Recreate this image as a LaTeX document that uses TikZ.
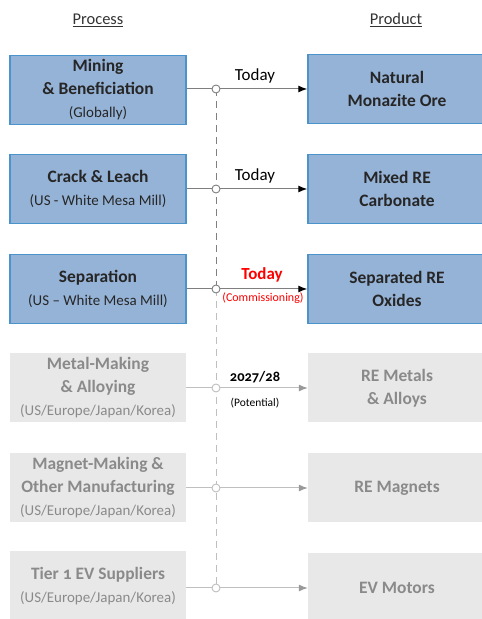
\documentclass[tikz,border=0pt]{standalone}
\usepackage{fontspec}
\setmainfont{Carlito}[Numbers=OldStyle]
\usetikzlibrary{arrows.meta}
\definecolor{boxblue}{HTML}{95B3D7}
\definecolor{edgeblue}{HTML}{4B93CB}
\definecolor{boxgrey}{HTML}{E8E8E8}
\definecolor{txtgrey}{HTML}{8A8A8A}
\definecolor{linegrey}{HTML}{7F7F7F}
\definecolor{lightline}{HTML}{BFBFBF}
\definecolor{redtxt}{HTML}{FF0000}
\newcommand{\procnote}[1]{{\fontsize{15}{23}\selectfont #1}}
\begin{document}
\begin{tikzpicture}[x=1bp,y=1bp,
  bluebox/.style={draw=edgeblue, line width=1.5bp, fill=boxblue, minimum width=176bp, minimum height=69bp,
    align=center, font=\fontsize{17.5}{23}\selectfont\bfseries, text=black!85},
  greybox/.style={fill=boxgrey, minimum width=176bp, minimum height=69bp,
    align=center, font=\fontsize{17.5}{23}\selectfont\bfseries, text=txtgrey},
  joint/.style={circle, draw=linegrey, fill=white, line width=0.9bp, inner sep=0pt, minimum size=8bp},
  greyjoint/.style={joint, draw=lightline},
  flow/.style={draw=linegrey, line width=1bp, -{Latex[length=9bp,width=7bp,black]}},
  greyflow/.style={draw=lightline, line width=1bp, -{Latex[length=9bp,width=7bp,lightline!80!black]}},
  when/.style={font=\fontsize{17}{19}\selectfont, text=black}]
\useasboundingbox (0,0) rectangle (482,619);
% headings
\node[font=\fontsize{16.5}{18}\selectfont, text=black!80] (hproc) at (98,599) {\underline{Process}};
\node[font=\fontsize{16.5}{18}\selectfont, text=black!80] (hprod) at (396,599) {\underline{Product}};
% process column
\node[bluebox] (proc1) at (98,529) {Mining\\ \& Beneficiation\\ \procnote{\mdseries (Globally)}};
\node[bluebox] (proc2) at (98,430) {Crack \& Leach\\ \procnote{\mdseries (US - White Mesa Mill)}};
\node[bluebox] (proc3) at (98,330) {Separation\\ \procnote{\mdseries (US -- White Mesa Mill)}};
\node[greybox] (proc4) at (98,231) {Metal-Making\\ \& Alloying\\ \procnote{\mdseries (US/Europe/Japan/Korea)}};
\node[greybox] (proc5) at (98,131) {Magnet-Making \&\\ Other Manufacturing\\ \procnote{\mdseries (US/Europe/Japan/Korea)}};
\node[greybox] (proc6) at (98,33) {Tier 1 EV Suppliers\\ \procnote{\mdseries (US/Europe/Japan/Korea)}};
% product column
\node[bluebox, minimum width=178bp] (prod1) at (397,530) {Natural\\ Monazite Ore};
\node[bluebox, minimum width=178bp] (prod2) at (397,430) {Mixed RE\\ Carbonate};
\node[bluebox, minimum width=178bp] (prod3) at (397,330) {Separated RE\\ Oxides};
\node[greybox, minimum width=178bp] (prod4) at (397,231) {RE Metals\\ \& Alloys};
\node[greybox, minimum width=178bp] (prod5) at (397,131) {RE Magnets};
\node[greybox, minimum width=178bp] (prod6) at (397,31) {EV Motors};
% timeline
\coordinate (t1) at (216,530);
\coordinate (t3) at (216,330);
\coordinate (t6) at (216,31);
\draw[linegrey, line width=0.9bp, dash pattern=on 7bp off 5bp] (t1) -- (t3);
\draw[lightline, line width=0.9bp, dash pattern=on 7bp off 5bp] (t3) -- (t6);
\draw[flow] (proc1.east |- prod1.west) -- (prod1.west);
\draw[flow] (proc2.east) -- (prod2.west);
\draw[flow] (proc3.east) -- (prod3.west);
\draw[greyflow] (proc4.east) -- (proc4.east -| prod4.west);
\draw[greyflow] (proc5.east) -- (prod5.west);
\draw[greyflow] (proc6.east |- prod6.west) -- (prod6.west);
\node[joint] (j1) at (216,530) {};
\node[joint] (j2) at (216,430) {};
\node[joint] (j3) at (216,330) {};
\node[greyjoint] (j4) at (216,231) {};
\node[greyjoint] (j5) at (216,131) {};
\node[greyjoint] (j6) at (216,31) {};
% timing labels
\node[when] (w1) at (255,543) {Today};
\node[when] (w2) at (255,443) {Today};
\node[when, text=redtxt, font=\fontsize{17}{19}\selectfont\bfseries] (w3) at (262,344) {Today};
\node[when, text=redtxt, font=\fontsize{12}{14}\selectfont] (w3b) at (263,321) {(Commissioning)};
\node[when, font=\fontsize{14.5}{16}\selectfont\bfseries] (w4) at (255,242) {2027/28};
\node[when, font=\fontsize{11.5}{13}\selectfont] (w4b) at (255,216) {(Potential)};
\end{tikzpicture}
\end{document}
